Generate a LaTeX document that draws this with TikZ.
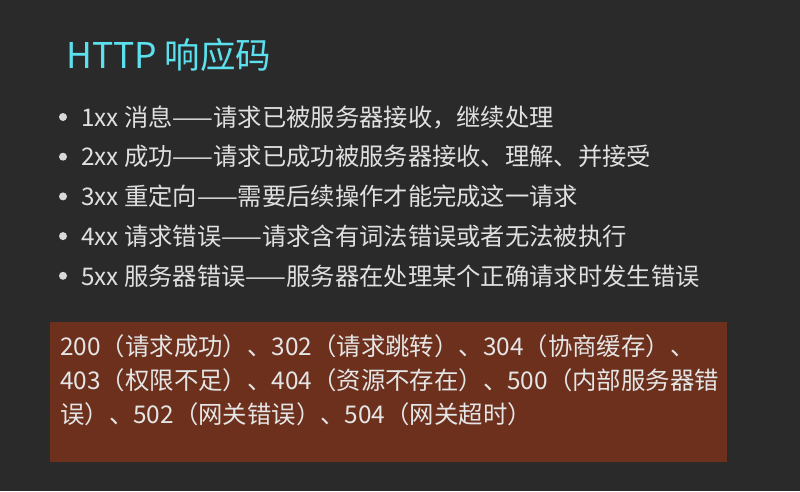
\documentclass[tikz,border=0pt]{standalone}
\usepackage{fontspec}
\setmainfont{Noto Sans CJK SC}
\begin{document}
\begin{tikzpicture}[x=1pt,y=-1pt,
  item/.style={anchor=west,text=white!88!black,font=\fontsize{24.3}{28}\selectfont,inner sep=0pt},
  dot/.style={circle,fill=white!85!black,minimum size=8pt,inner sep=0pt},
  boxtxt/.style={anchor=north west,text=white!90!black,font=\fontsize{24.4}{34}\selectfont,inner sep=0pt,align=left}]
\definecolor{bg}{HTML}{2A2A2A}
\definecolor{brownbox}{HTML}{6C301D}
\definecolor{titlec}{HTML}{5CE0EE}
\fill[bg] (0,0) rectangle (800,491);
\node[anchor=west,text=titlec,font=\fontsize{35.5}{40}\selectfont,inner sep=0pt] (title) at (66,55) {HTTP 响应码};
\foreach \i/\t in {1/{1xx 消息——请求已被服务器接收，继续处理},
                   2/{2xx 成功——请求已成功被服务器接收、理解、并接受},
                   3/{3xx 重定向——需要后续操作才能完成这一请求},
                   4/{4xx 请求错误——请求含有词法错误或者无法被执行},
                   5/{5xx 服务器错误——服务器在处理某个正确请求时发生错误}}{
  \node[dot] (d\i) at (63,{117+(\i-1)*39.7}) {};
  \node[item] (t\i) at (81,{117+(\i-1)*39.7}) {\t};
}
\node[fill=brownbox,minimum width=677pt,minimum height=140pt,anchor=north west,inner sep=0pt] (box) at (50,322) {};
\node[boxtxt] (bt) at (60,334) {200（请求成功）、302（请求跳转）、304（协商缓存）、\\403（权限不足）、404（资源不存在）、500（内部服务器错\\误）、502（网关错误）、504（网关超时）};
\end{tikzpicture}
\end{document}
